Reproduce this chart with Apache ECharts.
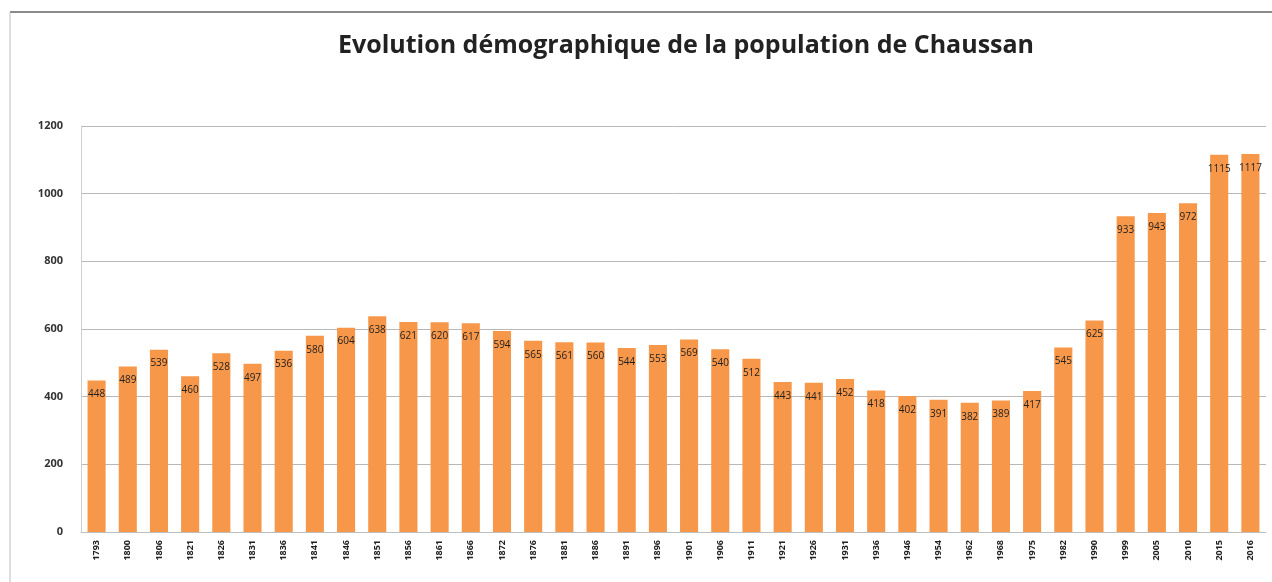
<!DOCTYPE html>
<html><head><meta charset="utf-8">
<script src="https://cdn.jsdelivr.net/npm/echarts@6/dist/echarts.min.js"></script>
<style>html,body{margin:0;padding:0;background:#fff}#c{width:1272px;height:582px}</style>
</head><body><div id="c"></div>
<script>
const titleText = 'Evolution démographique de la population de Chaussan';
const years = ['1793','1800','1806','1821','1826','1831','1836','1841','1846','1851','1856','1861','1866','1872','1876','1881','1886','1891','1896','1901','1906','1911','1921','1926','1931','1936','1946','1954','1962','1968','1975','1982','1990','1999','2005','2010','2015','2016'];
const population = [448,489,539,460,528,497,536,580,604,638,621,620,617,594,565,561,560,544,553,569,540,512,443,441,452,418,402,391,382,389,417,545,625,933,943,972,1115,1117];
const yTicks = [0,200,400,600,800,1000,1200];

const chart = echarts.init(document.getElementById('c'));
chart.setOption({
  animation:false,
  backgroundColor:'#fff',
  graphic:[
    {type:'line',shape:{x1:10,y1:12,x2:1272,y2:12},style:{stroke:'#8a8a8a',lineWidth:2}},
    {type:'line',shape:{x1:10,y1:12,x2:10,y2:582},style:{stroke:'#bdbdbd',lineWidth:1}}
  ],
  title:{text:titleText,left:681,top:28,textAlign:'center',
    textStyle:{fontFamily:'Open Sans',fontWeight:'bold',fontSize:25,color:'#222'}},
  grid:{left:81,right:6,top:126,bottom:50},
  xAxis:{type:'category',data:years,
    axisLine:{lineStyle:{color:'#bfbfbf'}},axisTick:{show:false},
    axisLabel:{rotate:90,interval:0,fontSize:9,color:'#222',fontFamily:'Open Sans',fontWeight:'bold',margin:8}},
  yAxis:{type:'value',min:yTicks[0],max:yTicks[yTicks.length-1],interval:200,
    axisLine:{show:true,lineStyle:{color:'#cfcfcf'}},
    axisLabel:{fontSize:11,color:'#333',fontFamily:'Open Sans',margin:18,fontWeight:'bold',formatter:v=>String(v)},
    splitLine:{lineStyle:{color:'#b8b8b8',width:1}}},
  series:[{type:'bar',data:population,barWidth:'58%',
    itemStyle:{color:'#f7974a'},
    label:{show:true,position:'insideTop',distance:9,fontSize:10,color:'#222',fontFamily:'Open Sans'}}]
});
</script></body></html>
